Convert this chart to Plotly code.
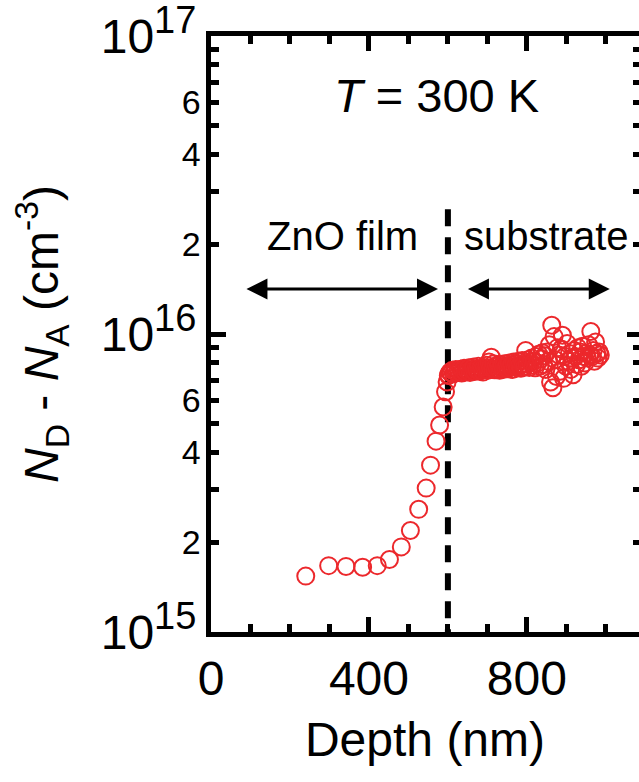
import math
import plotly.graph_objects as go

# C-V depth profile: net donor concentration vs. depth
film_depth_nm = [240, 298, 342, 384, 421, 452, 482, 505, 526, 545, 556, 570, 579, 588, 594, 598, 601]
film_nd_na_1e15 = [1.54, 1.67, 1.66, 1.65, 1.67, 1.75, 1.93, 2.19, 2.58, 3.04, 3.63, 4.37, 4.95,
                   5.69, 6.40, 6.90, 7.25]

sub_depth_nm = [
    602, 605, 608, 611, 614, 617, 620, 623, 626, 629,
    632, 635, 638, 641, 644, 647, 650, 653, 656, 659,
    662, 665, 668, 671, 674, 677, 680, 683, 686, 689,
    692, 695, 698, 701, 704, 707, 710, 713, 716, 719,
    722, 725, 728, 731, 734, 737, 740, 743, 746, 749,
    752, 755, 758, 761, 764, 767, 770, 773, 776, 779,
    782, 785, 788, 791, 794, 797, 800, 803, 806, 809,
    812, 815, 818, 821, 824, 827, 830, 833, 836, 839,
    842, 845, 848, 851, 854, 857, 860, 863, 866, 869,
    872, 875, 878, 881, 884, 887, 890, 893, 896, 899,
    902, 905, 908, 911, 914, 917, 920, 923, 926, 929,
    932, 935, 938, 941, 944, 947, 950, 953, 956, 959,
    962, 965, 968, 971, 974, 977, 980, 983, 986,
]
sub_nd_na_1e15 = [
    7.30, 7.45, 7.40, 7.55, 7.35, 7.50, 7.60, 7.42, 7.55, 7.48,
    7.62, 7.40, 7.55, 7.68, 7.45, 7.58, 7.50, 7.70, 7.42, 7.60,
    7.52, 7.75, 7.48, 7.62, 7.55, 7.80, 7.50, 7.66, 7.58, 7.45,
    7.72, 7.60, 7.85, 7.55, 8.05, 7.70, 8.35, 7.62, 7.95, 7.58,
    7.80, 7.65, 7.90, 7.55, 7.72, 7.85, 7.60, 7.95, 7.70, 7.82,
    7.65, 8.00, 7.75, 7.88, 7.60, 8.05, 7.78, 7.92, 7.70, 8.10,
    7.85, 7.68, 8.15, 7.90, 7.75, 8.80, 7.95, 8.20, 7.72, 8.05,
    8.30, 7.85, 8.10, 7.70, 8.40, 8.00, 8.55, 7.80, 8.25, 8.65,
    7.90, 8.45, 7.60, 8.70, 8.10, 9.20, 6.90, 10.7, 6.60, 9.80,
    8.20, 7.20, 9.00, 8.50, 7.50, 8.90, 9.90, 7.10, 8.40, 7.80,
    9.30, 8.10, 8.60, 7.60, 8.30, 7.30, 8.80, 8.40, 7.90, 9.00,
    8.20, 8.70, 7.80, 9.10, 8.40, 8.00, 8.60, 8.30, 9.20, 8.50,
    10.2, 8.40, 8.80, 8.10, 9.40, 8.60, 8.30, 8.70, 8.50,
]

depth_nm = film_depth_nm + sub_depth_nm
nd_na = [v * 1e15 for v in film_nd_na_1e15 + sub_nd_na_1e15]

interface_nm = 600
interface_top = 2.62e16
arrow_level = 1.416e16
film_span = [86, 575]
substrate_span = [647, 1010]

x_range = [0, 1084]
y_range_log = [15, 17]

major_y = [1e15, 1e16, 1e17]
major_y_exp = ["15", "16", "17"]
minor_y = [m * 10 ** e for e in (15, 16) for m in range(2, 10)]
labeled_minor_y = [m * 10 ** e for e in (15, 16) for m in (2, 4, 6)]
labeled_minor_text = [str(m) for e in (15, 16) for m in (2, 4, 6)]
plain_minor_y = [v for v in minor_y if v not in labeled_minor_y]

x_major = [0, 400, 800]
x_major_text = ["0", "400", "800"]
x_minor = [100, 200, 300, 500, 600, 700, 900, 1000]

RED = "rgb(236,40,44)"
FONT = "Liberation Sans, Arial, Helvetica, sans-serif"
TICK_W = 5

major_y_text = ['10<sup><span style="font-size:38px">%s</span></sup>' % e for e in major_y_exp]
# trailing space keeps the small labels clear of the thick left spine
labeled_minor_label = [t + " " for t in labeled_minor_text]

fig = go.Figure()

# interface between the film and the substrate
fig.add_trace(go.Scatter(
    x=[interface_nm, interface_nm], y=[interface_top, 10 ** y_range_log[0]],
    mode="lines", line=dict(color="black", width=6, dash="17px,11px"),
    showlegend=False, hoverinfo="skip",
))

fig.add_trace(go.Scatter(
    x=depth_nm, y=nd_na, mode="markers",
    marker=dict(symbol="circle-open", size=17, color=RED, line=dict(width=2, color=RED)),
    showlegend=False,
))

# empty traces that attach the extra tick axes
for xa, ya in (("x2", "y2"), ("x3", "y3"), ("x4", "y4"), ("x", "y5")):
    fig.add_trace(go.Scatter(x=[None], y=[None], xaxis=xa, yaxis=ya,
                             showlegend=False, hoverinfo="skip"))


def tick_axis(**kw):
    base = dict(showgrid=False, zeroline=False, showline=False, ticks="inside",
                tickcolor="black", tickwidth=TICK_W, tickmode="array")
    base.update(kw)
    return base


fig.update_layout(
    template="none",
    width=639, height=782,
    margin=dict(l=211, r=0, t=36, b=150, autoexpand=False),
    plot_bgcolor="rgba(0,0,0,0)", paper_bgcolor="white",
    font=dict(family=FONT, color="black"),
    xaxis=tick_axis(
        range=x_range, showline=True, mirror=True, linecolor="black", linewidth=5,
        ticklen=15, tickvals=x_major, ticktext=x_major_text,
        tickfont=dict(size=48),
        title=dict(text="Depth (nm)", font=dict(size=48), standoff=20),
    ),
    xaxis2=tick_axis(range=x_range, overlaying="x", side="top", anchor="y",
                     ticklen=15, tickvals=x_major, showticklabels=False),
    xaxis3=tick_axis(range=x_range, overlaying="x", side="bottom", anchor="y",
                     ticklen=8, tickvals=x_minor, showticklabels=False),
    xaxis4=tick_axis(range=x_range, overlaying="x", side="top", anchor="y",
                     ticklen=8, tickvals=x_minor, showticklabels=False),
    yaxis=tick_axis(
        type="log", range=y_range_log, showline=True, mirror=True, linecolor="black", linewidth=5,
        ticklen=15, tickvals=major_y, ticktext=major_y_text,
        tickfont=dict(size=48), ticklabeloverflow="allow",
        title=dict(text="<i>N</i><sub>D</sub> - <i>N</i><sub>A</sub> (cm<sup>-3</sup>)",
                   font=dict(size=48), standoff=28),
    ),
    yaxis2=tick_axis(type="log", range=y_range_log, overlaying="y", side="right", anchor="x",
                     ticklen=12, tickvals=major_y, showticklabels=False),
    yaxis3=tick_axis(type="log", range=y_range_log, overlaying="y", side="left", anchor="x",
                     ticklen=8, tickvals=labeled_minor_y, ticktext=labeled_minor_label,
                     tickfont=dict(size=34)),
    yaxis4=tick_axis(type="log", range=y_range_log, overlaying="y", side="right", anchor="x",
                     ticklen=6, tickvals=minor_y, showticklabels=False),
    yaxis5=tick_axis(type="log", range=y_range_log, overlaying="y", side="left", anchor="x",
                     ticklen=8, tickvals=plain_minor_y, showticklabels=False),
)

ann_font = dict(family=FONT, size=40, color="black")
fig.add_annotation(x=572, y=16.80, xref="x", yref="y", showarrow=False,
                   text="<i>T</i> = 300 K", font=dict(family=FONT, size=47, color="black"))
fig.add_annotation(x=333, y=16.33, xref="x", yref="y", showarrow=False,
                   text="ZnO film", font=ann_font)
fig.add_annotation(x=849, y=16.33, xref="x", yref="y", showarrow=False,
                   text="substrate", font=ann_font)

# double-headed range arrows
for start, end in (film_span, substrate_span):
    fig.add_annotation(
        x=end, y=math.log10(arrow_level), ax=start, ay=math.log10(arrow_level),
        xref="x", yref="y", axref="x", ayref="y", text="",
        showarrow=True, arrowhead=2, arrowside="end+start", arrowsize=1.4,
        arrowwidth=3, arrowcolor="black", standoff=0, startstandoff=0,
    )

fig.write_html("out.html", config={"displayModeBar": False})
